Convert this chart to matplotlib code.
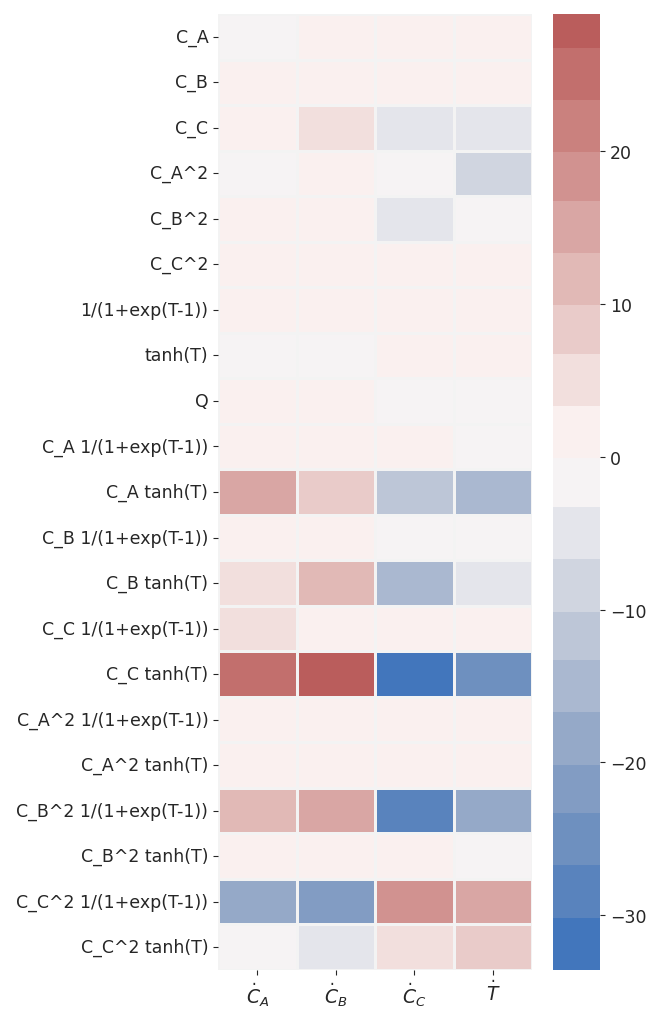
import numpy as np
import pandas as pd
import matplotlib
matplotlib.use('Agg')
import matplotlib.pyplot as plt
import seaborn as sns

# library terms (rows) and state derivatives (columns)
terms = ['C_A', 'C_B', 'C_C', 'C_A^2', 'C_B^2', 'C_C^2',
         '1/(1+exp(T-1))', 'tanh(T)', 'Q',
         'C_A 1/(1+exp(T-1))', 'C_A tanh(T)',
         'C_B 1/(1+exp(T-1))', 'C_B tanh(T)',
         'C_C 1/(1+exp(T-1))', 'C_C tanh(T)',
         'C_A^2 1/(1+exp(T-1))', 'C_A^2 tanh(T)',
         'C_B^2 1/(1+exp(T-1))', 'C_B^2 tanh(T)',
         'C_C^2 1/(1+exp(T-1))', 'C_C^2 tanh(T)']
derivs = [r'$\dot{C}_A$', r'$\dot{C}_B$', r'$\dot{C}_C$', r'$\dot{T}$']

# estimated coefficients, one list per column
coef_CA = [-0.5, 1.0, 1.0, -0.5, 1.0, 1.0, 1.0, -0.5, 1.0, 1.0, 15.0,
           1.0, 5.0, 5.0, 25.0, 1.0, 1.0, 12.0, 1.0, -18.0, -0.5]
coef_CB = [1.0, 1.0, 5.0, 1.0, 1.0, 1.0, 1.0, -0.5, 1.0, 1.0, 8.5,
           1.0, 12.0, 1.0, 29.0, 1.0, 1.0, 15.0, 1.0, -22.0, -5.0]
coef_CC = [1.0, 1.0, -5.0, -0.5, -5.0, 1.0, 1.0, 1.0, -0.5, 1.0, -12.0,
           -0.5, -15.0, 1.0, -33.6, 1.0, 1.0, -28.0, 1.0, 18.0, 5.0]
coef_T = [1.0, 1.0, -5.0, -8.0, -0.5, 1.0, 1.0, 1.0, -0.5, -0.5, -15.0,
          -0.5, -5.0, 1.0, -25.0, 1.0, 1.0, -18.0, -0.5, 15.0, 8.5]

df = pd.DataFrame({derivs[0]: coef_CA, derivs[1]: coef_CB,
                   derivs[2]: coef_CC, derivs[3]: coef_T}, index=terms)

plt.rcParams['text.color'] = '#262626'
plt.rcParams['xtick.color'] = '#262626'
plt.rcParams['ytick.color'] = '#262626'

fig = plt.figure(figsize=(6.49, 10.12), dpi=100)
ax = fig.add_axes([0.336, 0.0405, 0.484, 0.9447])
cax = fig.add_axes([0.852, 0.0405, 0.0724, 0.9447])

cmap = sns.color_palette('vlag', 20)
sns.heatmap(df, ax=ax, cbar_ax=cax, cmap=cmap, center=0,
            linewidths=2, linecolor='#f3f3f3')

ax.tick_params(axis='y', labelsize=12.5, rotation=0)
ax.tick_params(axis='x', labelsize=13.5, rotation=0)
cax.tick_params(labelsize=12.5)
cax.set_yticks([-30, -20, -10, 0, 10, 20])

fig.savefig('out.png', dpi=100)
plt.close(fig)
